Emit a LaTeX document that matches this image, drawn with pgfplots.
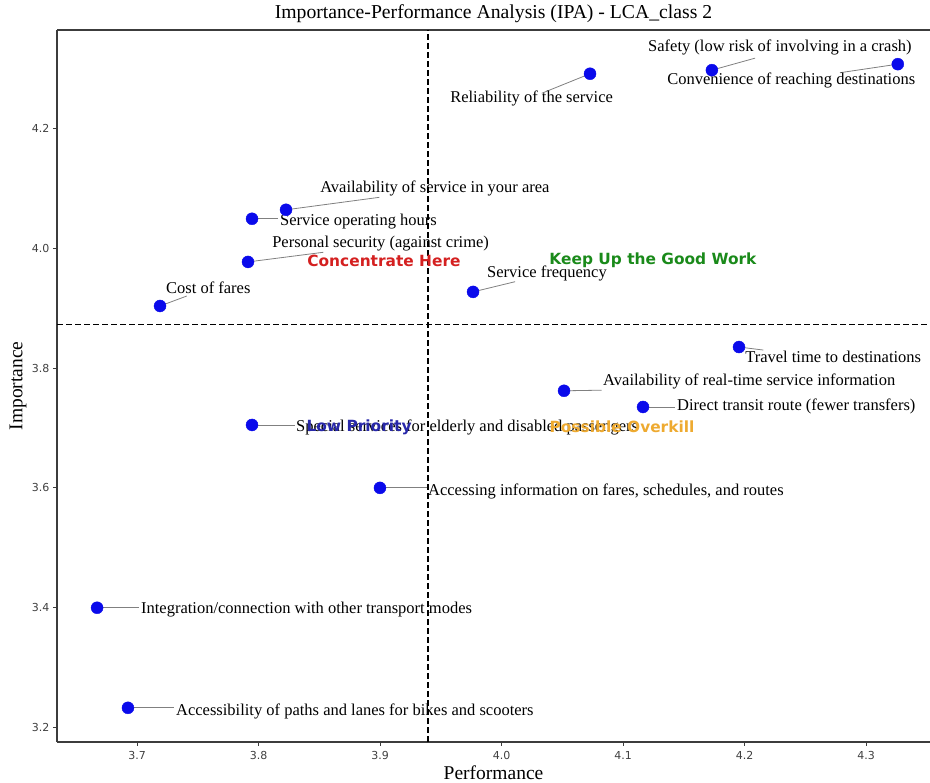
\documentclass[border=0pt]{standalone}
\usepackage{pgfplots}
\pgfplotsset{compat=1.18}
\usepackage{fontspec}
\setmainfont{Liberation Serif}
\newfontfamily\dejavu{DejaVu Sans}

\definecolor{ptblue}{RGB}{10,10,235}
\definecolor{qred}{RGB}{212,32,32}
\definecolor{qgreen}{RGB}{26,138,26}
\definecolor{qblue}{RGB}{40,40,170}
\definecolor{qorange}{RGB}{238,170,48}
\definecolor{spine}{RGB}{60,60,60}
\definecolor{conn}{RGB}{128,128,128}

\newcommand\lab{\fontsize{16.5}{19}\selectfont}
\newcommand\quadfont{\dejavu\bfseries\fontsize{15.4}{18}\selectfont}

% performance, importance
\pgfplotstableread{
x      y
4.173  4.297
4.326  4.307
4.0727 4.291
3.8225 4.064
3.7945 4.049
3.7912 3.977
3.7188 3.9035
3.9764 3.927
4.1953 3.835
4.0513 3.762
4.1163 3.735
3.7945 3.705
3.8998 3.600
3.667  3.400
3.6924 3.233
}\ipa

\begin{document}
\begin{tikzpicture}
\begin{axis}[
  scale only axis, width=873pt, height=712pt,
  xmin=3.634, xmax=4.3525, ymin=3.176, ymax=4.364,
  axis x line*=box, axis y line*=left,
  axis line style={spine, line width=1.1pt},
  xtick={3.7,3.8,3.9,4.0,4.1,4.2,4.3},
  ytick={3.2,3.4,3.6,3.8,4.0,4.2},
  xtick pos=left, ytick pos=left,
  tick align=outside, major tick length=4pt,
  tick style={spine, line width=0.8pt},
  ticklabel style={font=\dejavu\fontsize{11}{13}\selectfont, text=black!75},
  /pgf/number format/assume math mode=true,
  xticklabel style={yshift=-2pt, /pgf/number format/.cd, fixed, fixed zerofill, precision=1},
  yticklabel style={/pgf/number format/.cd, fixed, fixed zerofill, precision=1},
  scaled ticks=false,
  xlabel={Performance},
  ylabel={Importance},
  xlabel style={font=\fontsize{19.5}{22}\selectfont, at={(axis description cs:0.5,-0.0425)}, anchor=center},
  ylabel style={font=\fontsize{19.5}{22}\selectfont, at={(axis description cs:-0.0447,0.5)}, anchor=center},
  clip=false,
]
% mean lines
\addplot[black, line width=1.3pt, dash pattern=on 6pt off 3pt] coordinates {(3.9394,3.176) (3.9394,4.364)};
\addplot[black, line width=1.3pt, dash pattern=on 6pt off 3pt] coordinates {(3.634,3.8724) (4.3525,3.8724)};

% connectors
\draw[conn, line width=0.8pt] (axis cs:4.173,4.297) -- (axis cs:4.2085,4.317);
\draw[conn, line width=0.8pt] (axis cs:4.326,4.307) -- (axis cs:4.2784,4.2927);
\draw[conn, line width=0.8pt] (axis cs:4.0727,4.291) -- (axis cs:4.0329,4.2584);
\draw[conn, line width=0.8pt] (axis cs:3.8225,4.064) -- (axis cs:3.8993,4.0848);
\draw[conn, line width=0.8pt] (axis cs:3.7945,4.049) -- (axis cs:3.8161,4.049);
\draw[conn, line width=0.8pt] (axis cs:3.7912,3.977) -- (axis cs:3.8532,3.9931);
\draw[conn, line width=0.8pt] (axis cs:3.7188,3.9035) -- (axis cs:3.7408,3.9201);
\draw[conn, line width=0.8pt] (axis cs:3.9764,3.927) -- (axis cs:4.011,3.944);
\draw[conn, line width=0.8pt] (axis cs:4.1953,3.835) -- (axis cs:4.2153,3.830);
\draw[conn, line width=0.8pt] (axis cs:4.0513,3.762) -- (axis cs:4.0823,3.763);
\draw[conn, line width=0.8pt] (axis cs:4.1163,3.735) -- (axis cs:4.1426,3.735);
\draw[conn, line width=0.8pt] (axis cs:3.7945,3.705) -- (axis cs:3.8299,3.705);
\draw[conn, line width=0.8pt] (axis cs:3.8998,3.600) -- (axis cs:3.9383,3.600);
\draw[conn, line width=0.8pt] (axis cs:3.667,3.400) -- (axis cs:3.7012,3.400);
\draw[conn, line width=0.8pt] (axis cs:3.6924,3.233) -- (axis cs:3.7303,3.233);

\addplot[only marks, mark=*, mark size=6pt, ptblue, mark options={draw=ptblue, fill=ptblue}] table[x=x, y=y] {\ipa};

% labels
\begin{scope}[every node/.style={anchor=west, inner sep=0pt, font=\lab}]
\node at (axis cs:4.1204,4.334) {Safety (low risk of involving in a crash)};
\node at (axis cs:4.1361,4.279) {Convenience of reaching destinations};
\node at (axis cs:3.9575,4.249) {Reliability of the service};
\node at (axis cs:3.8505,4.099) {Availability of service in your area};
\node at (axis cs:3.8175,4.044) {Service operating hours};
\node at (axis cs:3.811,4.007) {Personal security (against crime)};
\node at (axis cs:3.7237,3.9335) {Cost of fares};
\node at (axis cs:3.9879,3.9585) {Service frequency};
\node at (axis cs:4.2003,3.8184) {Travel time to destinations};
\node at (axis cs:4.0834,3.7783) {Availability of real-time service information};
\node at (axis cs:4.1443,3.7366) {Direct transit route (fewer transfers)};
\node at (axis cs:3.8307,3.7016) {Special services for elderly and disabled passengers};
\node at (axis cs:3.9393,3.5948) {Accessing information on fares, schedules, and routes};
\node at (axis cs:3.7031,3.3962) {Integration/connection with other transport modes};
\node at (axis cs:3.7319,3.2277) {Accessibility of paths and lanes for bikes and scooters};
\end{scope}

% quadrant labels
\node[text=qred, font=\quadfont] at (axis cs:3.9031,3.9786) {Concentrate Here};
\node[text=qgreen, font=\quadfont] at (axis cs:4.1245,3.980) {Keep Up the Good Work};
\node[text=qblue, font=\quadfont] at (axis cs:3.8826,3.7016) {Low Priority};
\node[text=qorange, font=\quadfont] at (axis cs:4.099,3.7016) {Possible Overkill};
\end{axis}
\node[font=\fontsize{19.7}{22}\selectfont, inner sep=0pt] at ([yshift=16pt]current axis.north) {Importance-Performance Analysis (IPA) - LCA\_class 2};
\pgfresetboundingbox
\path[use as bounding box] ([xshift=-57pt,yshift=-41pt]current axis.south west) rectangle ([yshift=30pt]current axis.north east);
\end{tikzpicture}
\end{document}
